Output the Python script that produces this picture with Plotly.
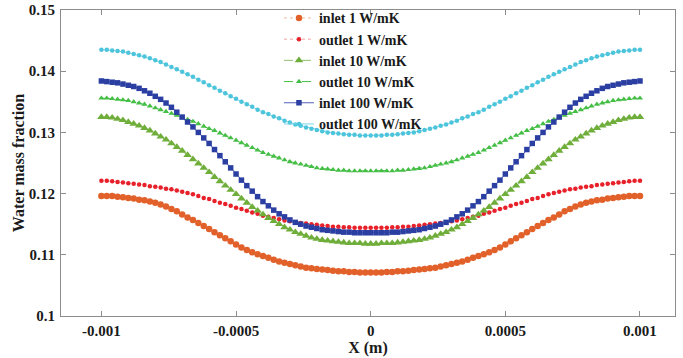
import numpy as np
import plotly.graph_objects as go

# x grid (m)
x_m = np.round(np.linspace(-0.001, 0.001, 101), 6)

inlet_1 = [
    0.1196, 0.1196, 0.1196, 0.1195, 0.1194, 0.1193, 0.1192, 0.1190, 0.1189, 0.1187,
    0.1185, 0.1182, 0.1179, 0.1175, 0.1171, 0.1166, 0.1161, 0.1157, 0.1152, 0.1147,
    0.1142, 0.1137, 0.1132, 0.1127, 0.1122, 0.1117, 0.1112, 0.1108, 0.1104, 0.1101,
    0.1098, 0.1095, 0.1092, 0.1089, 0.1087, 0.1085, 0.1083, 0.1081, 0.1079, 0.1078,
    0.1077, 0.1076, 0.1075, 0.1074, 0.1073, 0.1073, 0.1072, 0.1072, 0.1071, 0.1071,
    0.1071,
    0.1071, 0.1071, 0.1072, 0.1072, 0.1073, 0.1073, 0.1074, 0.1075, 0.1076, 0.1077,
    0.1078, 0.1079, 0.1081, 0.1083, 0.1085, 0.1087, 0.1089, 0.1092, 0.1095, 0.1098,
    0.1101, 0.1104, 0.1108, 0.1112, 0.1117, 0.1122, 0.1127, 0.1132, 0.1137, 0.1142,
    0.1147, 0.1152, 0.1157, 0.1161, 0.1166, 0.1171, 0.1175, 0.1179, 0.1182, 0.1185,
    0.1187, 0.1189, 0.1190, 0.1192, 0.1193, 0.1194, 0.1195, 0.1196, 0.1196, 0.1196,
]

outlet_1 = [
    0.1221, 0.1221, 0.1220, 0.1219, 0.1218, 0.1217, 0.1216, 0.1215, 0.1214, 0.1212,
    0.1211, 0.1210, 0.1208, 0.1207, 0.1205, 0.1203, 0.1201, 0.1199, 0.1196, 0.1193,
    0.1191, 0.1188, 0.1185, 0.1183, 0.1180, 0.1177, 0.1175, 0.1172, 0.1169, 0.1167,
    0.1164, 0.1162, 0.1160, 0.1158, 0.1156, 0.1155, 0.1153, 0.1152, 0.1151, 0.1150,
    0.1149, 0.1148, 0.1147, 0.1146, 0.1146, 0.1145, 0.1145, 0.1144, 0.1144, 0.1144,
    0.1144,
    0.1144, 0.1144, 0.1144, 0.1145, 0.1145, 0.1146, 0.1146, 0.1147, 0.1148, 0.1149,
    0.1150, 0.1151, 0.1152, 0.1153, 0.1155, 0.1156, 0.1158, 0.1160, 0.1162, 0.1164,
    0.1167, 0.1169, 0.1172, 0.1175, 0.1177, 0.1180, 0.1183, 0.1185, 0.1188, 0.1191,
    0.1193, 0.1196, 0.1199, 0.1201, 0.1203, 0.1205, 0.1207, 0.1208, 0.1210, 0.1211,
    0.1212, 0.1214, 0.1215, 0.1216, 0.1217, 0.1218, 0.1219, 0.1220, 0.1221, 0.1221,
]

inlet_10 = [
    0.1325, 0.1325, 0.1324, 0.1322, 0.1320, 0.1317, 0.1314, 0.1311, 0.1307, 0.1303,
    0.1298, 0.1293, 0.1288, 0.1282, 0.1276, 0.1270, 0.1263, 0.1256, 0.1249, 0.1242,
    0.1235, 0.1227, 0.1220, 0.1213, 0.1206, 0.1199, 0.1192, 0.1185, 0.1178, 0.1172,
    0.1166, 0.1160, 0.1155, 0.1150, 0.1145, 0.1141, 0.1137, 0.1134, 0.1131, 0.1128,
    0.1126, 0.1124, 0.1123, 0.1122, 0.1121, 0.1120, 0.1119, 0.1119, 0.1119, 0.1118,
    0.1118,
    0.1118, 0.1119, 0.1119, 0.1119, 0.1120, 0.1121, 0.1122, 0.1123, 0.1124, 0.1126,
    0.1128, 0.1131, 0.1134, 0.1137, 0.1141, 0.1145, 0.1150, 0.1155, 0.1160, 0.1166,
    0.1172, 0.1178, 0.1185, 0.1192, 0.1199, 0.1206, 0.1213, 0.1220, 0.1227, 0.1235,
    0.1242, 0.1249, 0.1256, 0.1263, 0.1270, 0.1276, 0.1282, 0.1288, 0.1293, 0.1298,
    0.1303, 0.1307, 0.1311, 0.1314, 0.1317, 0.1320, 0.1322, 0.1324, 0.1325, 0.1325,
]

outlet_10 = [
    0.1356, 0.1356, 0.1355, 0.1354, 0.1353, 0.1352, 0.1350, 0.1348, 0.1346, 0.1343,
    0.1340, 0.1337, 0.1334, 0.1331, 0.1328, 0.1325, 0.1321, 0.1318, 0.1314, 0.1310,
    0.1306, 0.1303, 0.1299, 0.1295, 0.1291, 0.1287, 0.1283, 0.1279, 0.1275, 0.1271,
    0.1267, 0.1264, 0.1261, 0.1258, 0.1255, 0.1252, 0.1250, 0.1248, 0.1246, 0.1244,
    0.1242, 0.1241, 0.1240, 0.1239, 0.1238, 0.1238, 0.1237, 0.1237, 0.1237, 0.1237,
    0.1237,
    0.1237, 0.1237, 0.1237, 0.1237, 0.1238, 0.1238, 0.1239, 0.1240, 0.1241, 0.1242,
    0.1244, 0.1246, 0.1248, 0.1250, 0.1252, 0.1255, 0.1258, 0.1261, 0.1264, 0.1267,
    0.1271, 0.1275, 0.1279, 0.1283, 0.1287, 0.1291, 0.1295, 0.1299, 0.1303, 0.1306,
    0.1310, 0.1314, 0.1318, 0.1321, 0.1325, 0.1328, 0.1331, 0.1334, 0.1337, 0.1340,
    0.1343, 0.1346, 0.1348, 0.1350, 0.1352, 0.1353, 0.1354, 0.1355, 0.1356, 0.1356,
]

inlet_100 = [
    0.1384, 0.1383, 0.1382, 0.1381, 0.1379, 0.1377, 0.1375, 0.1372, 0.1368, 0.1364,
    0.1359, 0.1354, 0.1348, 0.1341, 0.1333, 0.1325, 0.1317, 0.1309, 0.1300, 0.1291,
    0.1282, 0.1272, 0.1262, 0.1252, 0.1242, 0.1232, 0.1222, 0.1213, 0.1204, 0.1195,
    0.1187, 0.1180, 0.1173, 0.1167, 0.1162, 0.1157, 0.1153, 0.1150, 0.1147, 0.1145,
    0.1143, 0.1141, 0.1140, 0.1139, 0.1138, 0.1137, 0.1137, 0.1136, 0.1136, 0.1136,
    0.1136,
    0.1136, 0.1136, 0.1136, 0.1137, 0.1137, 0.1138, 0.1139, 0.1140, 0.1141, 0.1143,
    0.1145, 0.1147, 0.1150, 0.1153, 0.1157, 0.1162, 0.1167, 0.1173, 0.1180, 0.1187,
    0.1195, 0.1204, 0.1213, 0.1222, 0.1232, 0.1242, 0.1252, 0.1262, 0.1272, 0.1282,
    0.1291, 0.1300, 0.1309, 0.1317, 0.1325, 0.1333, 0.1341, 0.1348, 0.1354, 0.1359,
    0.1364, 0.1368, 0.1372, 0.1375, 0.1377, 0.1379, 0.1381, 0.1382, 0.1383, 0.1384,
]

outlet_100 = [
    0.1435, 0.1435, 0.1434, 0.1433, 0.1432, 0.1430, 0.1428, 0.1426, 0.1424, 0.1421,
    0.1418, 0.1415, 0.1411, 0.1407, 0.1403, 0.1399, 0.1395, 0.1391, 0.1386, 0.1382,
    0.1377, 0.1373, 0.1368, 0.1364, 0.1359, 0.1355, 0.1350, 0.1346, 0.1342, 0.1337,
    0.1333, 0.1330, 0.1326, 0.1323, 0.1319, 0.1316, 0.1313, 0.1311, 0.1308, 0.1306,
    0.1304, 0.1302, 0.1300, 0.1299, 0.1298, 0.1297, 0.1296, 0.1296, 0.1295, 0.1295,
    0.1295,
    0.1295, 0.1295, 0.1296, 0.1296, 0.1297, 0.1298, 0.1299, 0.1300, 0.1302, 0.1304,
    0.1306, 0.1308, 0.1311, 0.1313, 0.1316, 0.1319, 0.1323, 0.1326, 0.1330, 0.1333,
    0.1337, 0.1342, 0.1346, 0.1350, 0.1355, 0.1359, 0.1364, 0.1368, 0.1373, 0.1377,
    0.1382, 0.1386, 0.1391, 0.1395, 0.1399, 0.1403, 0.1407, 0.1411, 0.1415, 0.1418,
    0.1421, 0.1424, 0.1426, 0.1428, 0.1430, 0.1432, 0.1433, 0.1434, 0.1435, 0.1435,
]

series_names = ["inlet 1 W/mK", "outlet 1 W/mK", "inlet 10 W/mK",
                "outlet 10 W/mK", "inlet 100 W/mK", "outlet 100 W/mK"]
x_ticks = [-0.001, -0.0005, 0, 0.0005, 0.001]
x_tick_labels = ["-0.001", "-0.0005", "0", "0.0005", "0.001"]
y_ticks = [0.1, 0.11, 0.12, 0.13, 0.14, 0.15]
y_tick_labels = ["0.1", "0.11", "0.12", "0.13", "0.14", "0.15"]

styles = [
    dict(color="#E2612A", symbol="circle", size=6.5, dash="dot", lw=1, lc="#F0B89C"),
    dict(color="#E8202A", symbol="circle", size=4.5, dash="dot", lw=1, lc="#F4A0A0"),
    dict(color="#6FAE3A", symbol="triangle-up", size=7.5, dash="dashdot", lw=1, lc="#8FC070"),
    dict(color="#45BE45", symbol="triangle-up", size=5.5, dash="dash", lw=1, lc="#45BE45"),
    dict(color="#2B3FA3", symbol="square", size=5.5, dash="solid", lw=1, lc="#5060B8"),
    dict(color="#4CC4DC", symbol="circle", size=4.5, dash="solid", lw=1, lc="#7AD4E6"),
]

all_series = [inlet_1, outlet_1, inlet_10, outlet_10, inlet_100, outlet_100]

FONT = "Liberation Serif, Times New Roman, serif"
TXT = "#1A1A1A"

fig = go.Figure()
for name, ys, st in zip(series_names, all_series, styles):
    fig.add_trace(go.Scatter(
        x=x_m, y=ys, name=name, mode="lines+markers",
        line=dict(color=st["lc"], width=st["lw"], dash=st["dash"]),
        marker=dict(color=st["color"], symbol=st["symbol"], size=st["size"],
                    line=dict(width=0)),
    ))

axis_common = dict(
    showline=True, linecolor="#8C8C8C", linewidth=1, mirror="ticks",
    ticks="inside", ticklen=5, tickcolor="#8C8C8C", showgrid=False, zeroline=False,
    automargin=False,
    tickfont=dict(family=FONT, size=15, color=TXT, weight="bold"),
)

fig.update_xaxes(
    range=[-0.00115, 0.00113], tickvals=x_ticks, ticktext=x_tick_labels,
    ticklabelstandoff=1,
    title=dict(text="X (m)", font=dict(family=FONT, size=16, color=TXT, weight="bold"),
               standoff=0),
    **axis_common,
)
fig.update_yaxes(
    range=[0.1, 0.15], tickvals=y_ticks, ticktext=y_tick_labels,
    ticklabelstandoff=2,
    title=dict(text="Water mass fraction",
               font=dict(family=FONT, size=16, color=TXT, weight="bold"),
               standoff=0),
    **axis_common,
)

fig.update_layout(
    width=683, height=358,
    margin=dict(l=61, r=8, t=10, b=42, autoexpand=False),
    paper_bgcolor="white", plot_bgcolor="white",
    font=dict(family=FONT),
    showlegend=True,
    legend=dict(
        x=0.355, y=1.025, xanchor="left", yanchor="top",
        bgcolor="rgba(255,255,255,0)", borderwidth=0,
        font=dict(family=FONT, size=14, color=TXT, weight="bold"),
        tracegroupgap=0, itemwidth=30,
    ),
)

fig.write_html("out.html", config={"displayModeBar": False},
               post_script="document.body.style.margin='0';")
